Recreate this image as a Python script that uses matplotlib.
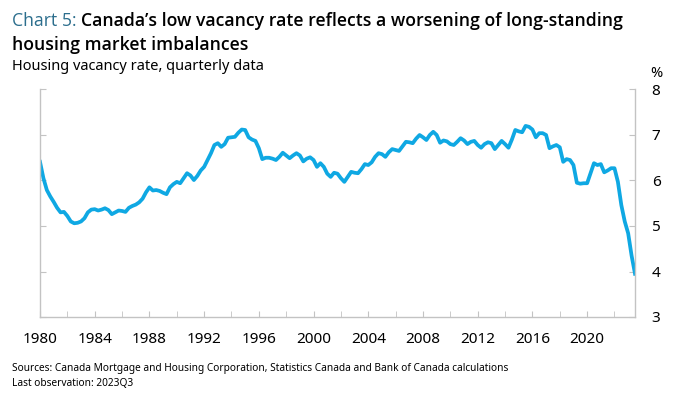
import numpy as np
import matplotlib
matplotlib.use("Agg")
import matplotlib.pyplot as plt
from matplotlib.ticker import MultipleLocator

plt.rcParams["font.family"] = ["Noto Sans", "DejaVu Sans"]

# quarterly housing vacancy rate, 1980Q1 - 2023Q3
vacancy = [
    6.41, 6.05, 5.79, 5.65,  # 1980
    5.53, 5.40, 5.30, 5.31,
    5.22, 5.10, 5.06, 5.07,
    5.10, 5.17, 5.30, 5.36,
    5.37, 5.34, 5.36, 5.39,
    5.35, 5.26, 5.30, 5.34,  # 1985
    5.33, 5.31, 5.40, 5.44,
    5.47, 5.52, 5.60, 5.74,
    5.85, 5.78, 5.79, 5.77,
    5.73, 5.70, 5.85, 5.92,
    5.97, 5.94, 6.05, 6.16,  # 1990
    6.11, 6.01, 6.10, 6.22,
    6.30, 6.45, 6.60, 6.78,
    6.82, 6.74, 6.80, 6.94,
    6.95, 6.96, 7.05, 7.12,
    7.11, 6.95, 6.90, 6.87,  # 1995
    6.71, 6.47, 6.50, 6.50,
    6.48, 6.45, 6.52, 6.61,
    6.55, 6.49, 6.55, 6.60,
    6.55, 6.42, 6.48, 6.51,
    6.45, 6.30, 6.38, 6.30,  # 2000
    6.15, 6.08, 6.17, 6.15,
    6.05, 5.97, 6.08, 6.19,
    6.17, 6.16, 6.25, 6.36,
    6.34, 6.40, 6.52, 6.60,
    6.58, 6.52, 6.62, 6.69,  # 2005
    6.67, 6.65, 6.75, 6.85,
    6.84, 6.82, 6.92, 7.00,
    6.95, 6.89, 7.00, 7.07,
    7.00, 6.83, 6.88, 6.86,
    6.80, 6.78, 6.85, 6.93,  # 2010
    6.88, 6.80, 6.85, 6.87,
    6.78, 6.72, 6.80, 6.84,
    6.82, 6.69, 6.78, 6.87,
    6.80, 6.72, 6.90, 7.11,
    7.08, 7.06, 7.20, 7.18,  # 2015
    7.12, 6.95, 7.04, 7.04,
    7.00, 6.71, 6.75, 6.78,
    6.73, 6.41, 6.47, 6.45,
    6.34, 5.95, 5.93, 5.94,
    5.94, 6.16, 6.38, 6.34,  # 2020
    6.36, 6.18, 6.22, 6.27,
    6.27, 5.97, 5.46, 5.10,
    4.84, 4.35, 3.95,        # 2023
]
start_year = 1980
year_labels = list(range(1980, 2021, 4))

t = start_year + np.arange(len(vacancy)) / 4.0

fig = plt.figure(figsize=(6.8, 4.01), dpi=100)
ax = fig.add_axes([40 / 680, 1 - 317 / 401, 595 / 680, 227.5 / 401])

ax.plot(t, vacancy, color="#0fa8e3", lw=2.7, solid_joinstyle="round")

ax.set_xlim(start_year, t[-1])
ax.set_ylim(3, 8)

spine_col = "#c3c3c3"
for side in ["left", "right", "bottom"]:
    ax.spines[side].set_color(spine_col)
    ax.spines[side].set_linewidth(1.0)
ax.spines["top"].set_visible(False)

ax.set_xticks(year_labels)
ax.set_xticklabels([str(y) for y in year_labels])
ax.xaxis.set_minor_locator(MultipleLocator(2))
ax.tick_params(axis="x", which="both", direction="in", length=4, color=spine_col,
               labelsize=11, pad=11, labelcolor="black")

ax.yaxis.set_major_locator(MultipleLocator(1))
ax.tick_params(axis="y", which="both", direction="in", length=4, color=spine_col,
               left=True, right=True, labelleft=False, labelright=True,
               labelsize=11, pad=12, labelcolor="black")

# title: teal prefix followed by the black semibold part
title_font = ["Open Sans", "Noto Sans", "DejaVu Sans"]
title_size = 12.7
pre = fig.text(12 / 680, 1 - 26 / 401, "Chart 5: ", color="#2c6e8d", fontsize=title_size,
               va="baseline", family=title_font)
renderer = fig.canvas.get_renderer()
bb = pre.get_window_extent(renderer)
fig.text(bb.x1 / fig.bbox.width, 1 - 26 / 401,
         "Canada\u2019s low vacancy rate reflects a worsening of long-standing",
         color="black", fontsize=title_size, va="baseline", fontweight="semibold",
         family=title_font)
fig.text(12 / 680, 1 - 50 / 401, "housing market imbalances",
         color="black", fontsize=title_size, va="baseline", fontweight="semibold",
         family=title_font)
fig.text(12 / 680, 1 - 70 / 401, "Housing vacancy rate, quarterly data",
         color="black", fontsize=10.5, va="baseline")
fig.text(656 / 680, 1 - 77 / 401, "%", color="black", fontsize=10.5,
         va="baseline", ha="center")

fig.text(12 / 680, 1 - 371 / 401,
         "Sources: Canada Mortgage and Housing Corporation, Statistics Canada and Bank of Canada calculations",
         fontsize=7.3, va="baseline")
fig.text(12 / 680, 1 - 386 / 401, "Last observation: 2023Q3", fontsize=7.3, va="baseline")

fig.savefig("out.png", dpi=100)
